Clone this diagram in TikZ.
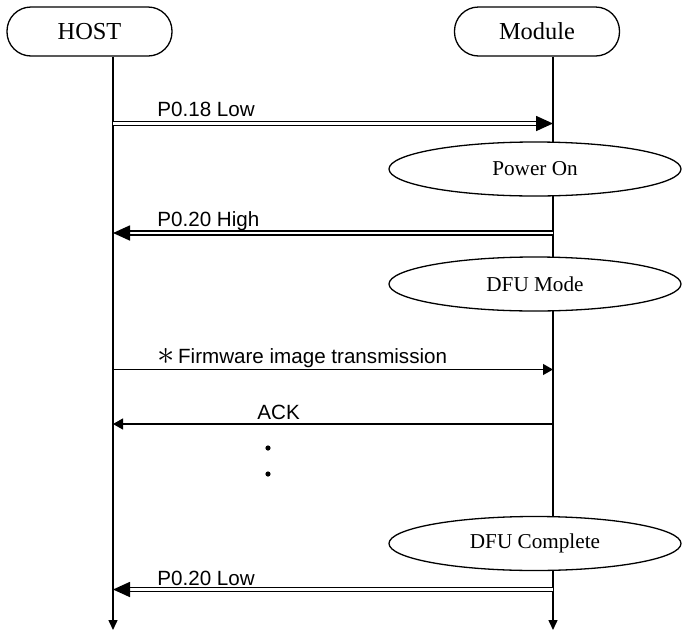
\documentclass[tikz,border=0pt]{standalone}
\usepackage{fontspec}
\setmainfont{Liberation Serif}
\setsansfont{Liberation Sans}
\usetikzlibrary{arrows.meta, shapes.geometric, positioning}

\begin{document}
\begin{tikzpicture}[x=0.5pt, y=-0.5pt,
    actor/.style={rectangle, rounded corners=12pt, draw, line width=0.65pt,
                  minimum width=82.5pt, minimum height=24.5pt, font=\fontsize{12.2}{14}\selectfont},
    state/.style={ellipse, draw, fill=white, line width=0.65pt, inner sep=0pt,
                  minimum width=146pt, minimum height=27pt, font=\fontsize{10.6}{12}\selectfont},
    lifeline/.style={line width=0.75pt, -{Triangle[length=5pt, width=4.5pt]}},
    signal/.style={double, double distance=1.1pt, line width=0.85pt, -{Triangle[length=8.5pt, width=7.5pt]}},
    msg/.style={line width=0.6pt, -{Triangle[length=5pt, width=5.5pt]}},
    lbl/.style={font=\sffamily\fontsize{10.3}{12}\selectfont, anchor=base west, inner sep=0pt},
    dot/.style={circle, fill, inner sep=0pt, minimum size=2.6pt}]

    \useasboundingbox (0,0) rectangle (682,633);

    % Actors
    \node[actor] (host) at (89.5, 31.5) {HOST};
    \node[actor] (module) at (537, 31.5) {Module};

    % Lifelines
    \coordinate (hostEnd) at (113, 630);
    \coordinate (modEnd) at (553, 630);
    \draw[lifeline] (host.south -| hostEnd) -- (hostEnd);
    \draw[lifeline] (module.south -| modEnd) -- (modEnd);

    % States
    \node[state] (power) at (535, 169) {Power On};
    \node[state] (dfumode) at (535, 284) {DFU Mode};
    \node[state] (dfudone) at (535, 543.5) {DFU Complete};

    % Points on the lifelines
    \coordinate (h1) at (113, 123.5);   \coordinate (m1) at (553, 123.5);
    \coordinate (h2) at (113, 233);     \coordinate (m2) at (553, 233);
    \coordinate (h3) at (113, 369.5);   \coordinate (m3) at (553, 369.5);
    \coordinate (h4) at (113, 424);     \coordinate (m4) at (553, 424);
    \coordinate (h5) at (113, 589.5);   \coordinate (m5) at (553, 589.5);

    % Messages
    \draw[signal] (h1) -- (m1);
    \draw[signal] (m2) -- (h2);
    \draw[msg] (h3) -- (m3);
    \draw[msg] (m4) -- (h4);
    \draw[signal] (m5) -- (h5);

    % Labels
    \node[lbl] (l1) at (157, 116) {P0.18 Low};
    \node[lbl] (l2) at (157, 226) {P0.20 High};
    \node[lbl] (l3) at (157, 363) {\raisebox{-0.5pt}{\fontsize{16}{16}\selectfont$\ast$}\,Firmware image transmission};
    \node[lbl] (l4) at (257, 419) {ACK};
    \node[lbl] (l5) at (157, 585) {P0.20 Low};

    % Dots
    \node[dot] (dot1) at (268, 448) {};
    \node[dot] (dot2) at (268, 474) {};
\end{tikzpicture}
\end{document}
